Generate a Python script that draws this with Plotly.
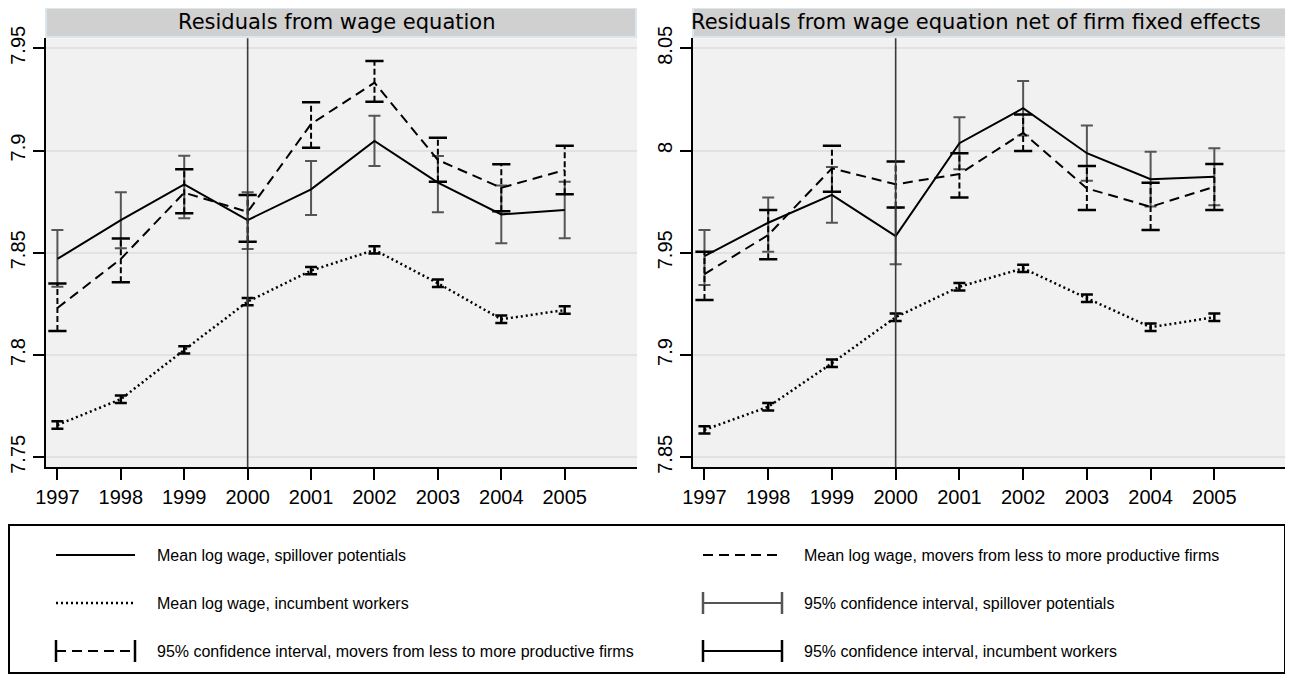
import plotly.graph_objects as go

# ---------------- data ----------------
years = [1997, 1998, 1999, 2000, 2001, 2002, 2003, 2004, 2005]
vline_year = 2000

# Left panel: residuals from wage equation
l_spill = [7.847, 7.866, 7.8835, 7.866, 7.881, 7.9047, 7.8843, 7.8688, 7.8709]
l_spill_lo = [7.8334, 7.8522, 7.8669, 7.8519, 7.8685, 7.8924, 7.8698, 7.8547, 7.8571]
l_spill_hi = [7.8611, 7.8796, 7.8975, 7.8796, 7.8949, 7.917, 7.8973, 7.8829, 7.8847]
l_move = [7.823, 7.847, 7.8794, 7.870, 7.913, 7.9332, 7.8954, 7.8818, 7.8905]
l_move_lo = [7.8118, 7.8356, 7.8693, 7.8554, 7.9014, 7.9239, 7.8848, 7.8703, 7.8786]
l_move_hi = [7.835, 7.857, 7.8908, 7.8783, 7.9236, 7.9438, 7.9063, 7.8933, 7.9024]
l_inc = [7.7658, 7.7784, 7.8025, 7.8261, 7.8413, 7.8514, 7.8351, 7.8175, 7.822]
l_inc_lo = [7.764, 7.7766, 7.8007, 7.8243, 7.8395, 7.8496, 7.8333, 7.8157, 7.8202]
l_inc_hi = [7.7676, 7.7802, 7.8043, 7.8279, 7.8431, 7.8532, 7.8369, 7.8193, 7.8238]

# Right panel: net of firm fixed effects
r_spill = [7.9484, 7.9647, 7.9783, 7.9582, 8.0036, 8.0207, 7.9987, 7.986, 7.9872]
r_spill_lo = [7.9343, 7.9505, 7.9647, 7.9444, 7.9909, 8.0074, 7.9852, 7.9726, 7.9733]
r_spill_hi = [7.9611, 7.9771, 7.9919, 7.972, 8.0163, 8.034, 8.0122, 7.9994, 8.0011]
r_move = [7.9396, 7.9587, 7.9913, 7.9835, 7.9885, 8.0087, 7.9815, 7.9725, 7.9823]
r_move_lo = [7.9269, 7.9468, 7.9799, 7.9722, 7.9771, 7.9998, 7.9709, 7.9611, 7.9709]
r_move_hi = [7.9505, 7.9709, 8.0024, 7.9946, 7.9987, 8.0176, 7.9924, 7.9843, 7.9934]
r_inc = [7.8634, 7.8747, 7.896, 7.9185, 7.9334, 7.9424, 7.9278, 7.9136, 7.9185]
r_inc_lo = [7.8616, 7.8729, 7.8942, 7.9167, 7.9316, 7.9406, 7.926, 7.9118, 7.9167]
r_inc_hi = [7.8652, 7.8765, 7.8978, 7.9203, 7.9352, 7.9442, 7.9296, 7.9154, 7.9203]

titles = ["Residuals from wage equation",
          "Residuals from wage equation net of firm fixed effects"]
left_ticks = [7.75, 7.8, 7.85, 7.9, 7.95]
right_ticks = [7.85, 7.9, 7.95, 8.0, 8.05]
left_ticktext = ["7.75", "7.8", "7.85", "7.9", "7.95"]
right_ticktext = ["7.85", "7.9", "7.95", "8", "8.05"]

legend_labels = [
    "Mean log wage, spillover potentials",
    "Mean log wage, movers from less to more productive firms",
    "Mean log wage, incumbent workers",
    "95% confidence interval, spillover potentials",
    "95% confidence interval, movers from less to more productive firms",
    "95% confidence interval, incumbent workers",
]

# ---------------- styling ----------------
OFF = 8  # default page body margin
W, H = 1293 - OFF, 675 - OFF
BG = "#f1f1f1"
GRID = "#e2e2e2"
GRAY = "#555555"
DASH = "10px,6px"
DOT = "2px,3px"
TICK_FONT = dict(family="Liberation Sans, Arial, sans-serif", size=20, color="black")
LEG_FONT = dict(family="Liberation Sans, Arial, sans-serif", size=16, color="black")
TITLE_FONT = dict(family="DejaVu Sans, Verdana, sans-serif", size=21, color="black")


def px(x):
    return (x - OFF) / W


def py(y):
    return 1 - (y - OFF) / H


fig = go.Figure()


def add_panel(xa, ya, spill, s_lo, s_hi, move, m_lo, m_hi, inc, i_lo, i_hi):
    # spillover CI (gray)
    fig.add_trace(go.Scatter(
        x=years, y=spill, mode="markers", xaxis=xa, yaxis=ya, showlegend=False,
        marker=dict(size=1, color="rgba(0,0,0,0)"), hoverinfo="skip",
        error_y=dict(type="data", symmetric=False,
                     array=[h - m for h, m in zip(s_hi, spill)],
                     arrayminus=[m - l for m, l in zip(spill, s_lo)],
                     color=GRAY, thickness=2, width=6)))
    # movers CI (dashed vertical + caps)
    vx, vy = [], []
    for yr, lo, hi in zip(years, m_lo, m_hi):
        vx += [yr, yr, None]
        vy += [lo, hi, None]
    fig.add_trace(go.Scatter(
        x=vx, y=vy, mode="lines", xaxis=xa, yaxis=ya, showlegend=False,
        line=dict(color="black", width=2, dash="6px,3px"), hoverinfo="skip"))
    fig.add_trace(go.Scatter(
        x=years + years, y=m_lo + m_hi, mode="markers", xaxis=xa, yaxis=ya,
        showlegend=False, hoverinfo="skip",
        marker=dict(symbol="line-ew", size=13, line=dict(color="black", width=2.5))))
    # incumbent CI
    fig.add_trace(go.Scatter(
        x=years, y=inc, mode="markers", xaxis=xa, yaxis=ya, showlegend=False,
        marker=dict(size=1, color="rgba(0,0,0,0)"), hoverinfo="skip",
        error_y=dict(type="data", symmetric=False,
                     array=[h - m for h, m in zip(i_hi, inc)],
                     arrayminus=[m - l for m, l in zip(inc, i_lo)],
                     color="black", thickness=2.5, width=6)))
    # mean lines
    fig.add_trace(go.Scatter(x=years, y=spill, mode="lines", xaxis=xa, yaxis=ya,
                             showlegend=False, line=dict(color="black", width=2)))
    fig.add_trace(go.Scatter(x=years, y=move, mode="lines", xaxis=xa, yaxis=ya,
                             showlegend=False, line=dict(color="black", width=2, dash=DASH)))
    fig.add_trace(go.Scatter(x=years, y=inc, mode="lines", xaxis=xa, yaxis=ya,
                             showlegend=False, line=dict(color="black", width=2.5, dash=DOT)))


add_panel("x", "y", l_spill, l_spill_lo, l_spill_hi, l_move, l_move_lo, l_move_hi,
          l_inc, l_inc_lo, l_inc_hi)
add_panel("x2", "y2", r_spill, r_spill_lo, r_spill_hi, r_move, r_move_lo, r_move_hi,
          r_inc, r_inc_lo, r_inc_hi)

xcommon = dict(range=[1996.82, 2006.14], tickvals=years, ticktext=[str(y) for y in years],
               showgrid=False, zeroline=False, showline=True, linecolor="black", linewidth=2,
               ticks="outside", ticklen=11, tickwidth=2, tickcolor="black",
               tickfont=TICK_FONT, fixedrange=True, automargin=False)
ycommon = dict(showgrid=True, gridcolor=GRID, gridwidth=2, zeroline=False, showline=True,
               linecolor="black", linewidth=2, ticks="outside", ticklen=11, tickwidth=2,
               tickcolor="black", tickfont=TICK_FONT, tickangle=-90, fixedrange=True,
               automargin=False)

ydom = [py(467.3), py(38.3)]
fig.update_layout(
    width=W, height=H, autosize=False,
    margin=dict(l=0, r=0, t=0, b=0, pad=0, autoexpand=False),
    paper_bgcolor="white", plot_bgcolor=BG,
    showlegend=False,
    xaxis=dict(domain=[px(46), px(637)], anchor="y", **xcommon),
    yaxis=dict(domain=ydom, anchor="x", range=[7.7451, 7.9549],
               tickvals=left_ticks, ticktext=left_ticktext, **ycommon),
    xaxis2=dict(domain=[px(693), px(1287)], anchor="y2", **xcommon),
    yaxis2=dict(domain=ydom, anchor="x2", range=[7.8451, 8.0549],
                tickvals=right_ticks, ticktext=right_ticktext, **ycommon),
)

shapes = []
annotations = []

# vertical reference lines
for xa, ya in [("x", "y"), ("x2", "y2")]:
    shapes.append(dict(type="line", xref=xa, yref=ya + " domain", x0=vline_year, x1=vline_year,
                       y0=0, y1=1, line=dict(color="#3a3a3a", width=1.6), layer="above"))

# title bars
for (x0, x1), title, cx in zip([(46, 636), (693, 1287)], titles, [336, 976]):
    shapes.append(dict(type="rect", xref="paper", yref="paper", x0=px(x0), x1=px(x1),
                       y0=py(37), y1=py(8), fillcolor="#d0d0d0",
                       line=dict(color="#dbe7ef", width=2)))
    annotations.append(dict(xref="paper", yref="paper", x=px(cx), y=py(22), text=title,
                            showarrow=False, xanchor="center", yanchor="middle",
                            font=TITLE_FONT))

# legend box
shapes.append(dict(type="rect", xref="paper", yref="paper", x0=px(9), x1=px(1285),
                   y0=py(673), y1=py(525), line=dict(color="black", width=2),
                   fillcolor="rgba(0,0,0,0)"))

rows = [555, 603, 651]
cols = [(56, 135, 155), (703, 782, 802)]
entries = [
    (0, 0, "solid", "black", False, legend_labels[0]),
    (1, 0, "dash", "black", False, legend_labels[1]),
    (0, 1, "dot", "black", False, legend_labels[2]),
    (1, 1, "solid", GRAY, True, legend_labels[3]),
    (0, 2, "dash", "black", True, legend_labels[4]),
    (1, 2, "solid", "black", True, legend_labels[5]),
]
dashmap = {"solid": "solid", "dash": DASH, "dot": DOT}
for c, r, d, col, caps, lab in entries:
    x0, x1, tx = cols[c]
    yy = rows[r]
    shapes.append(dict(type="line", xref="paper", yref="paper", x0=px(x0), x1=px(x1),
                       y0=py(yy), y1=py(yy),
                       line=dict(color=col, width=2.5 if d == "dot" else 2, dash=dashmap[d])))
    if caps:
        for xc in (x0, x1):
            shapes.append(dict(type="line", xref="paper", yref="paper", x0=px(xc), x1=px(xc),
                               y0=py(yy - 11), y1=py(yy + 11),
                               line=dict(color=col, width=2.5)))
    annotations.append(dict(xref="paper", yref="paper", x=px(tx), y=py(yy), text=lab,
                            showarrow=False, xanchor="left", yanchor="middle", font=LEG_FONT))

fig.update_layout(shapes=shapes, annotations=annotations)

fig.write_html("out.html")
